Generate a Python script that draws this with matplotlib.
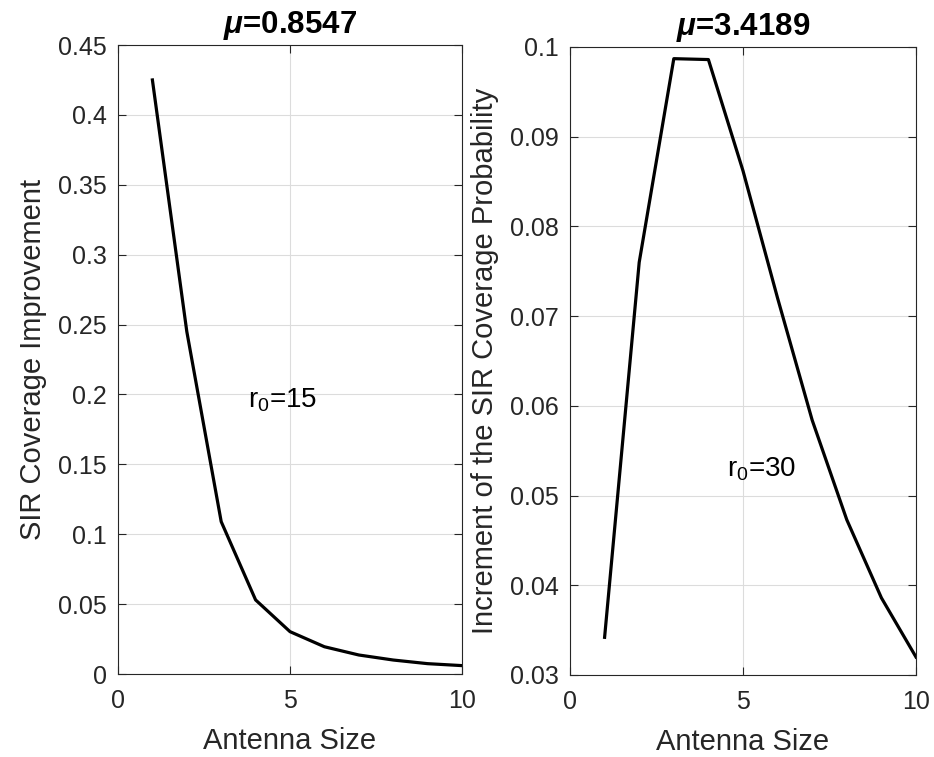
import numpy as np
import matplotlib.pyplot as plt

plt.rcParams['font.family'] = ['Liberation Sans', 'DejaVu Sans']
plt.rcParams['mathtext.fontset'] = 'custom'
plt.rcParams['mathtext.rm'] = 'Liberation Sans'
plt.rcParams['mathtext.it'] = 'Liberation Sans:italic:bold'

antenna = [1, 2, 3, 4, 5, 6, 7, 8, 9, 10]
improve_r15 = [0.425, 0.245, 0.109, 0.053, 0.0303, 0.0195, 0.0136, 0.0100, 0.0074, 0.0060]
improve_r30 = [0.0342, 0.0760, 0.0987, 0.0986, 0.0862, 0.0720, 0.0584, 0.0473, 0.0386, 0.0320]

fg = '#262626'


def style_ax(ax):
    ax.grid(True, color='#dcdcdc', linewidth=0.8)
    ax.set_axisbelow(True)
    ax.tick_params(direction='in', top=True, right=True, length=6, width=0.8,
                   colors=fg, labelsize=18)
    ax.tick_params(axis='x', pad=11)
    ax.tick_params(axis='y', pad=8)
    for s in ax.spines.values():
        s.set_color(fg)
        s.set_linewidth(0.8)


fig = plt.figure(figsize=(9.34, 7.57), dpi=100)
ax1 = fig.add_axes([118 / 934, 1 - 674 / 757, 344 / 934, 629 / 757])
ax2 = fig.add_axes([570 / 934, 1 - 675 / 757, 346 / 934, 628 / 757])

ax1.plot(antenna, improve_r15, color='k', linewidth=2.3)
ax1.set_xlim(0, 10)
ax1.set_ylim(0, 0.45)
ax1.set_xticks([0, 5, 10])
ax1.set_yticks(np.arange(0, 0.451, 0.05))
ax1.set_yticklabels(['0', '0.05', '0.1', '0.15', '0.2', '0.25', '0.3', '0.35', '0.4', '0.45'])
ax1.set_xlabel('Antenna Size', fontsize=21, color=fg, labelpad=10)
ax1.set_ylabel('SIR Coverage Improvement', fontsize=21, color=fg, labelpad=8)
ax1.set_title(r'$\mu$=0.8547', fontsize=22.5, fontweight='bold', pad=9)
ax1.text(3.78, 0.191, r'r$_0$=15', fontsize=20, color='k', va='baseline')
style_ax(ax1)

ax2.plot(antenna, improve_r30, color='k', linewidth=2.3)
ax2.set_xlim(0, 10)
ax2.set_ylim(0.03, 0.1)
ax2.set_xticks([0, 5, 10])
ax2.set_yticks(np.arange(0.03, 0.1001, 0.01))
ax2.set_yticklabels(['0.03', '0.04', '0.05', '0.06', '0.07', '0.08', '0.09', '0.1'])
ax2.set_xlabel('Antenna Size', fontsize=21, color=fg, labelpad=10)
ax2.set_ylabel('Increment of the SIR Coverage Probability', fontsize=21, color=fg, labelpad=8)
ax2.set_title(r'$\mu$=3.4189', fontsize=22.5, fontweight='bold', pad=9)
ax2.text(4.54, 0.0521, r'r$_0$=30', fontsize=20, color='k', va='baseline')
style_ax(ax2)

fig.savefig('out.png', dpi=100, facecolor='white')
